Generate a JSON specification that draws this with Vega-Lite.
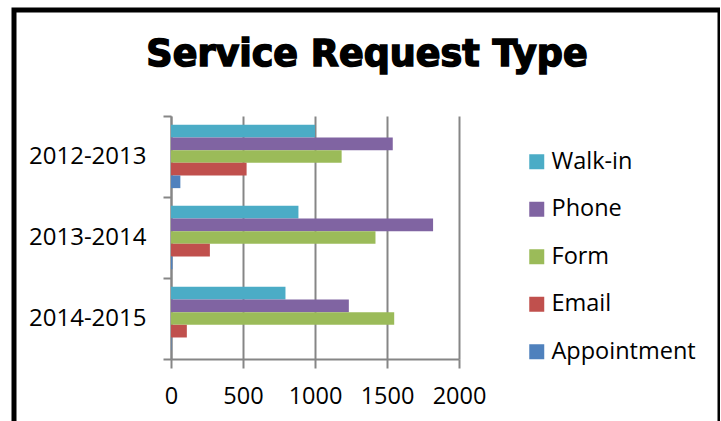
{
  "$schema": "https://vega.github.io/schema/vega-lite/v6.json",
  "width": 706,
  "height": 455,
  "autosize": {"type": "none"},
  "padding": {"left": 14, "top": 10, "right": 0, "bottom": 0},
  "background": "white",
  "title": {
    "text": "Service Request Type",
    "font": "DejaVu Sans",
    "fontSize": 36.5,
    "fontWeight": "bold",
    "color": "black",
    "anchor": "middle",
    "frame": "group",
    "offset": -75,
    "style": "heavy"
  },
  "data": {
    "values": [
      {"year": "2012-2013", "type": "Walk-in", "count": 1000},
      {"year": "2012-2013", "type": "Phone", "count": 1540},
      {"year": "2012-2013", "type": "Form", "count": 1185},
      {"year": "2012-2013", "type": "Email", "count": 525},
      {"year": "2012-2013", "type": "Appointment", "count": 65},
      {"year": "2013-2014", "type": "Walk-in", "count": 885},
      {"year": "2013-2014", "type": "Phone", "count": 1820},
      {"year": "2013-2014", "type": "Form", "count": 1420},
      {"year": "2013-2014", "type": "Email", "count": 270},
      {"year": "2013-2014", "type": "Appointment", "count": 10},
      {"year": "2014-2015", "type": "Walk-in", "count": 795},
      {"year": "2014-2015", "type": "Phone", "count": 1235},
      {"year": "2014-2015", "type": "Form", "count": 1550},
      {"year": "2014-2015", "type": "Email", "count": 110},
      {"year": "2014-2015", "type": "Appointment", "count": 3}
    ]
  },
  "mark": {"type": "bar"},
  "encoding": {
    "y": {
      "field": "year",
      "type": "nominal",
      "sort": ["2012-2013", "2013-2014", "2014-2015"],
      "scale": {"range": [106, 349], "paddingInner": 0, "paddingOuter": 0},
      "axis": {
        "title": null,
        "offset": -157,
        "grid": false,
        "domainColor": "#868686",
        "domainWidth": 2,
        "tickColor": "#868686",
        "tickWidth": 2,
        "tickSize": 8,
        "tickBand": "extent",
        "labelFont": "Open Sans",
        "labelFontSize": 24,
        "labelColor": "black",
        "labelPadding": 17
      }
    },
    "yOffset": {
      "field": "type",
      "type": "nominal",
      "sort": ["Walk-in", "Phone", "Form", "Email", "Appointment"],
      "scale": {"paddingInner": 0, "paddingOuter": 0.7}
    },
    "x": {
      "field": "count",
      "type": "quantitative",
      "scale": {"domain": [0, 2000], "range": [157, 445], "nice": false},
      "axis": {
        "title": null,
        "offset": -106,
        "values": [0, 500, 1000, 1500, 2000],
        "format": "d",
        "grid": true,
        "gridColor": "#868686",
        "gridWidth": 2,
        "domainColor": "#868686",
        "domainWidth": 2,
        "tickColor": "#868686",
        "tickWidth": 2,
        "tickSize": 9,
        "labelFont": "Open Sans",
        "labelFontSize": 23.5,
        "labelColor": "black",
        "labelPadding": 16,
        "labelFlush": false,
        "labelOverlap": false
      }
    },
    "color": {
      "field": "type",
      "type": "nominal",
      "sort": ["Walk-in", "Phone", "Form", "Email", "Appointment"],
      "scale": {
        "domain": ["Walk-in", "Phone", "Form", "Email", "Appointment"],
        "range": ["#4BACC6", "#8064A2", "#9BBB59", "#C0504D", "#4F81BD"]
      },
      "legend": {
        "title": null,
        "orient": "none",
        "legendX": 511,
        "legendY": 140,
        "symbolType": "square",
        "symbolSize": 225,
        "symbolStrokeWidth": 0,
        "symbolOpacity": 1,
        "labelFont": "Open Sans",
        "labelFontSize": 23.5,
        "labelColor": "black",
        "labelOffset": 3,
        "rowPadding": 22.5,
        "padding": 0
      }
    }
  },
  "config": {
    "view": {"stroke": "black", "strokeWidth": 5},
    "style": {"heavy": {"stroke": "black", "strokeWidth": 1.5}}
  }
}
